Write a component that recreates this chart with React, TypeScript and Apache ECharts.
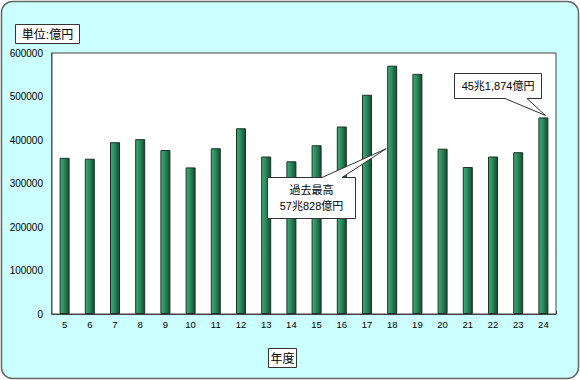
import React, { useEffect, useRef } from "react";
import * as echarts from "echarts";

const categories = ["5", "6", "7", "8", "9", "10", "11", "12", "13", "14", "15", "16", "17", "18", "19", "20", "21", "22", "23", "24"];
const revenue = [359000, 357000, 395000, 402000, 377000, 337000, 381000, 427000, 362000, 351000, 388000, 431000, 504000, 570828, 552000, 380000, 338000, 362000, 372000, 451874];
const yMin = 0;
const yMax = 600000;
const yInterval = 100000;
const unitLabel = "単位:億円";
const xTitle = "年度";
const peakNote = ["過去最高", "57兆828億円"];
const latestNote = "45兆1,874億円";
const peakIndex = 13;
const latestIndex = 19;

const FONT = "'Liberation Sans', Arial, 'Noto Sans CJK JP', sans-serif";

export default function App() {
  const ref = useRef<HTMLDivElement>(null);
  useEffect(() => {
    document.body.style.margin = "0";
    const chart = echarts.init(ref.current!, null, { renderer: "svg" });
    chart.setOption({
      animation: false,
      backgroundColor: "transparent",
      grid: {
        left: 52,
        right: 24,
        top: 53,
        bottom: 66,
        show: true,
        backgroundColor: "#ffffff",
        borderColor: "#444444",
        borderWidth: 1,
        z: 1,
      },
      xAxis: {
        type: "category",
        data: categories,
        axisLine: { show: true, lineStyle: { color: "#444444", width: 1.5 } },
        axisTick: { show: true, inside: true, length: 3, lineStyle: { color: "#444444" } },
        axisLabel: { color: "#000", fontSize: 9.5, fontFamily: FONT, margin: 6 },
      },
      yAxis: {
        type: "value",
        min: yMin,
        max: yMax,
        interval: yInterval,
        axisLine: { show: true, lineStyle: { color: "#444444", width: 1.5 } },
        axisTick: { show: false },
        splitLine: { show: true, lineStyle: { color: "#333333", width: 1 } },
        axisLabel: {
          color: "#000",
          fontSize: 10,
          fontFamily: FONT,
          margin: 9,
          formatter: (v: number) => String(v),
        },
      },
      series: [
        {
          type: "bar",
          data: revenue,
          barWidth: 10,
          z: 3,
          itemStyle: {
            color: new echarts.graphic.LinearGradient(0, 0, 1, 0, [
              { offset: 0, color: "#3fae78" },
              { offset: 0.45, color: "#2b8a5a" },
              { offset: 1, color: "#164a30" },
            ]),
            borderColor: "#1b3326",
            borderWidth: 1,
          },
        },
      ],
    });

    const tip1 = chart.convertToPixel({ xAxisIndex: 0, yAxisIndex: 0 }, [peakIndex, 380000]) as number[];
    const tip2 = chart.convertToPixel({ xAxisIndex: 0, yAxisIndex: 0 }, [latestIndex, revenue[latestIndex]]) as number[];
    const t1 = [tip1[0] - 6, tip1[1]];
    const t2 = [tip2[0] + 2, tip2[1] - 2];

    const boxStyle = { fill: "#ffffff", stroke: "#333333", lineWidth: 1 };
    const txt = (x: number, y: number, text: string, size = 11) => ({
      type: "text",
      x,
      y,
      z: 20,
      style: { text, fill: "#000", font: `${size}px ${FONT}`, textAlign: "center", textVerticalAlign: "middle" },
    });

    chart.setOption({
      graphic: [
        {
          type: "rect",
          z: -10,
          shape: { x: 1.5, y: 1.5, width: 577, height: 377, r: 11 },
          style: { fill: "#ccffff", stroke: "#666666", lineWidth: 1.5 },
        },
        {
          type: "rect",
          z: 20,
          shape: { x: 15.5, y: 24.5, width: 64, height: 19 },
          style: boxStyle,
        },
        txt(47.5, 34.5, unitLabel, 12),
        {
          type: "rect",
          z: 20,
          shape: { x: 268.5, y: 348.5, width: 28, height: 19 },
          style: boxStyle,
        },
        txt(282.5, 358.5, xTitle, 12),
        {
          type: "polygon",
          z: 20,
          shape: {
            points: [
              [267.5, 177.5], [322, 177.5], t1, [342, 177.5], [355.5, 177.5], [355.5, 218.5], [267.5, 218.5],
            ],
          },
          style: boxStyle,
        },
        txt(311.5, 190, peakNote[0]),
        txt(311.5, 206, peakNote[1]),
        {
          type: "polygon",
          z: 20,
          shape: {
            points: [
              [454.5, 73.5], [541.5, 73.5], [541.5, 98.5], [527, 98.5], t2, [505, 98.5], [454.5, 98.5],
            ],
          },
          style: boxStyle,
        },
        txt(498, 86, latestNote),
      ],
    });

    return () => chart.dispose();
  }, []);
  return <div ref={ref} style={{ width: 580, height: 380 }} />;
}
